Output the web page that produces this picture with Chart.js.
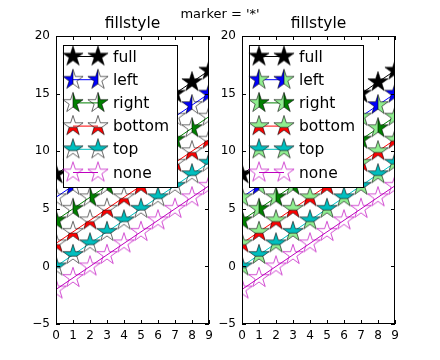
<!DOCTYPE html>
<html>
<head>
<meta charset="utf-8">
<script src="https://cdn.jsdelivr.net/npm/chart.js@4/dist/chart.umd.min.js"></script>
<style>
  body { margin: 0; background: #fff; width: 440px; height: 360px; position: relative; overflow: hidden; font-family: "DejaVu Sans", sans-serif; }
  #suptitle { position: absolute; left: 0; top: 7px; width: 440px; text-align: center; font-size: 13px; line-height: 13px; color: #000; z-index: 2; }
  .panel { position: absolute; top: 0; width: 220px; height: 360px; }
</style>
</head>
<body>
<div id="suptitle">marker = '*'</div>
<div class="panel" style="left:0"><canvas id="leftChart" width="220" height="360"></canvas></div>
<div class="panel" style="left:186px"><canvas id="rightChart" width="220" height="360"></canvas></div>
<script>
// ── data ────────────────────────────────────────────────────────────────────
const X_VALUES   = [0, 1, 2, 3, 4, 5, 6, 7, 8, 9];
const FILLSTYLES = ['full', 'left', 'right', 'bottom', 'top', 'none'];
const Y_FULL     = [8, 9, 10, 11, 12, 13, 14, 15, 16, 17];
const Y_LEFT     = [6, 7, 8, 9, 10, 11, 12, 13, 14, 15];
const Y_RIGHT    = [4, 5, 6, 7, 8, 9, 10, 11, 12, 13];
const Y_BOTTOM   = [2, 3, 4, 5, 6, 7, 8, 9, 10, 11];
const Y_TOP      = [0, 1, 2, 3, 4, 5, 6, 7, 8, 9];
const Y_NONE     = [-2, -1, 0, 1, 2, 3, 4, 5, 6, 7];
const SERIES     = [Y_FULL, Y_LEFT, Y_RIGHT, Y_BOTTOM, Y_TOP, Y_NONE];
const COLORS     = ['#000000', '#0000ff', '#008000', '#ff0000', '#00bfbf', '#bf00bf'];
const X_RANGE    = [0, 9];
const Y_RANGE    = [-5, 20];
const PANEL_TITLE = 'fillstyle';
// markerfacecoloralt of each panel (left: none, right: lightgreen)
const ALT_COLORS = [null, '#90ee90'];

const FONT = 'DejaVu Sans';
Chart.defaults.font.family = FONT;
Chart.defaults.color = '#000';

// ── star markers with mpl style half fills ─────────────────────────────────
const R = 10.6, S = 26;

function starPath(c) {
  const inner = R * 0.381966;
  c.beginPath();
  for (let k = 0; k < 10; k++) {
    const a = -Math.PI / 2 + k * Math.PI / 5;
    const rr = k % 2 ? inner : R;
    c.lineTo(rr * Math.cos(a), rr * Math.sin(a));
  }
  c.closePath();
}

function makeMarker(style, color, alt) {
  const cv = document.createElement('canvas');
  cv.width = S; cv.height = S;
  const c = cv.getContext('2d');
  c.translate(S / 2, S / 2);
  c.lineJoin = 'miter';
  if (style === 'none') {
    starPath(c);
    c.strokeStyle = color; c.lineWidth = 0.7;
    c.stroke();
    return cv;
  }
  if (style === 'full') {
    starPath(c);
    c.fillStyle = color; c.fill();
    c.strokeStyle = '#000'; c.lineWidth = 0.6; c.stroke();
    return cv;
  }
  // top/bottom split runs through the two lower-side inner vertices
  const cut = R * 0.381966 * Math.sin(Math.PI / 10);
  const rects = {
    left:   [-S, -S, S, 2 * S],
    right:  [0, -S, S, 2 * S],
    top:    [-S, -S, 2 * S, S + cut],
    bottom: [-S, cut, 2 * S, S]
  };
  const other = { left: 'right', right: 'left', top: 'bottom', bottom: 'top' }[style];
  c.save();
  starPath(c);
  c.clip();
  c.fillStyle = color;
  c.fillRect(...rects[style]);
  if (alt) {
    c.fillStyle = alt;
    c.fillRect(...rects[other]);
  }
  c.beginPath();
  if (style === 'left' || style === 'right') { c.moveTo(0, -S); c.lineTo(0, S); }
  else { c.moveTo(-S, cut); c.lineTo(S, cut); }
  c.strokeStyle = '#000'; c.lineWidth = 0.6; c.stroke();
  c.restore();
  starPath(c);
  c.strokeStyle = '#000'; c.lineWidth = 0.6; c.stroke();
  return cv;
}

// ── frame, inward ticks and the in-axes legend ─────────────────────────────
const mplAxes = {
  id: 'mplAxes',
  afterDraw(chart) {
    const { ctx, chartArea: a, scales: { x, y } } = chart;
    const markers = chart.options.plugins.mplAxes.markers;
    ctx.save();
    ctx.strokeStyle = '#000';
    ctx.lineWidth = 1;
    ctx.beginPath();
    x.ticks.forEach(t => {
      const px = Math.round(x.getPixelForValue(t.value)) + 0.5;
      ctx.moveTo(px, a.bottom); ctx.lineTo(px, a.bottom - 4);
      ctx.moveTo(px, a.top); ctx.lineTo(px, a.top + 4);
    });
    y.ticks.forEach(t => {
      const py = Math.round(y.getPixelForValue(t.value)) + 0.5;
      ctx.moveTo(a.left, py); ctx.lineTo(a.left + 4, py);
      ctx.moveTo(a.right, py); ctx.lineTo(a.right - 4, py);
    });
    ctx.stroke();
    ctx.strokeRect(a.left + 0.5, a.top + 0.5, a.right - a.left - 1, a.bottom - a.top - 1);

    // legend
    const lx = a.left + 7.5, ly = a.top + 9.5;
    ctx.fillStyle = '#fff';
    ctx.fillRect(lx, ly, 114, 142);
    ctx.strokeRect(lx, ly, 114, 142);
    ctx.font = '15.5px "' + FONT + '"';
    ctx.textBaseline = 'middle';
    chart.data.datasets.forEach((ds, i) => {
      const cy = ly + 11 + i * 23.2;
      const x1 = a.left + 17, x2 = a.left + 42;
      ctx.strokeStyle = ds.borderColor;
      ctx.beginPath(); ctx.moveTo(x1, cy); ctx.lineTo(x2, cy); ctx.stroke();
      ctx.drawImage(markers[i], x1 - S / 2, cy - S / 2);
      ctx.drawImage(markers[i], x2 - S / 2, cy - S / 2);
      ctx.fillStyle = '#000';
      ctx.fillText(ds.label, a.left + 57, cy + 1);
    });
    ctx.restore();
  }
};

function makePanel(canvasId, alt) {
  const markers = FILLSTYLES.map((fs, i) => makeMarker(fs, COLORS[i], alt));
  const datasets = FILLSTYLES.map((fs, i) => ({
    label: fs,
    data: X_VALUES.map((x, k) => ({ x: x, y: SERIES[i][k] })),
    borderColor: COLORS[i],
    borderWidth: 1,
    pointStyle: markers[i],
    pointRadius: 11,
    pointHoverRadius: 11,
    pointBorderWidth: 0,
    fill: false,
    tension: 0,
    clip: 0,
    order: FILLSTYLES.length - i
  }));

  return new Chart(document.getElementById(canvasId), {
    type: 'line',
    data: { datasets },
    options: {
      responsive: false,
      animation: false,
      devicePixelRatio: 1,
      layout: { padding: { top: 0, left: 0, right: 10, bottom: 0 } },
      scales: {
        x: {
          type: 'linear', min: X_RANGE[0], max: X_RANGE[1],
          grid: { display: false, drawTicks: false },
          border: { display: false },
          ticks: { stepSize: 1, padding: 5, font: { size: 12 }, color: '#000', maxRotation: 0 },
          afterFit: s => { s.height = 36; }
        },
        y: {
          type: 'linear', min: Y_RANGE[0], max: Y_RANGE[1],
          grid: { display: false, drawTicks: false },
          border: { display: false },
          ticks: {
            stepSize: 5, padding: 6, font: { size: 12 }, color: '#000',
            callback: v => (v < 0 ? '\u2212' + Math.abs(v) : String(v))
          },
          afterFit: s => { s.width = 56; }
        }
      },
      plugins: {
        legend: { display: false },
        tooltip: { enabled: false },
        title: {
          display: true, text: PANEL_TITLE, fullSize: false, color: '#000',
          font: { size: 15.5, weight: 'normal' },
          padding: { top: 14.8, bottom: 2.6 }
        },
        mplAxes: { markers }
      }
    },
    plugins: [mplAxes]
  });
}

makePanel('leftChart', ALT_COLORS[0]);
makePanel('rightChart', ALT_COLORS[1]);
</script>
</body>
</html>
